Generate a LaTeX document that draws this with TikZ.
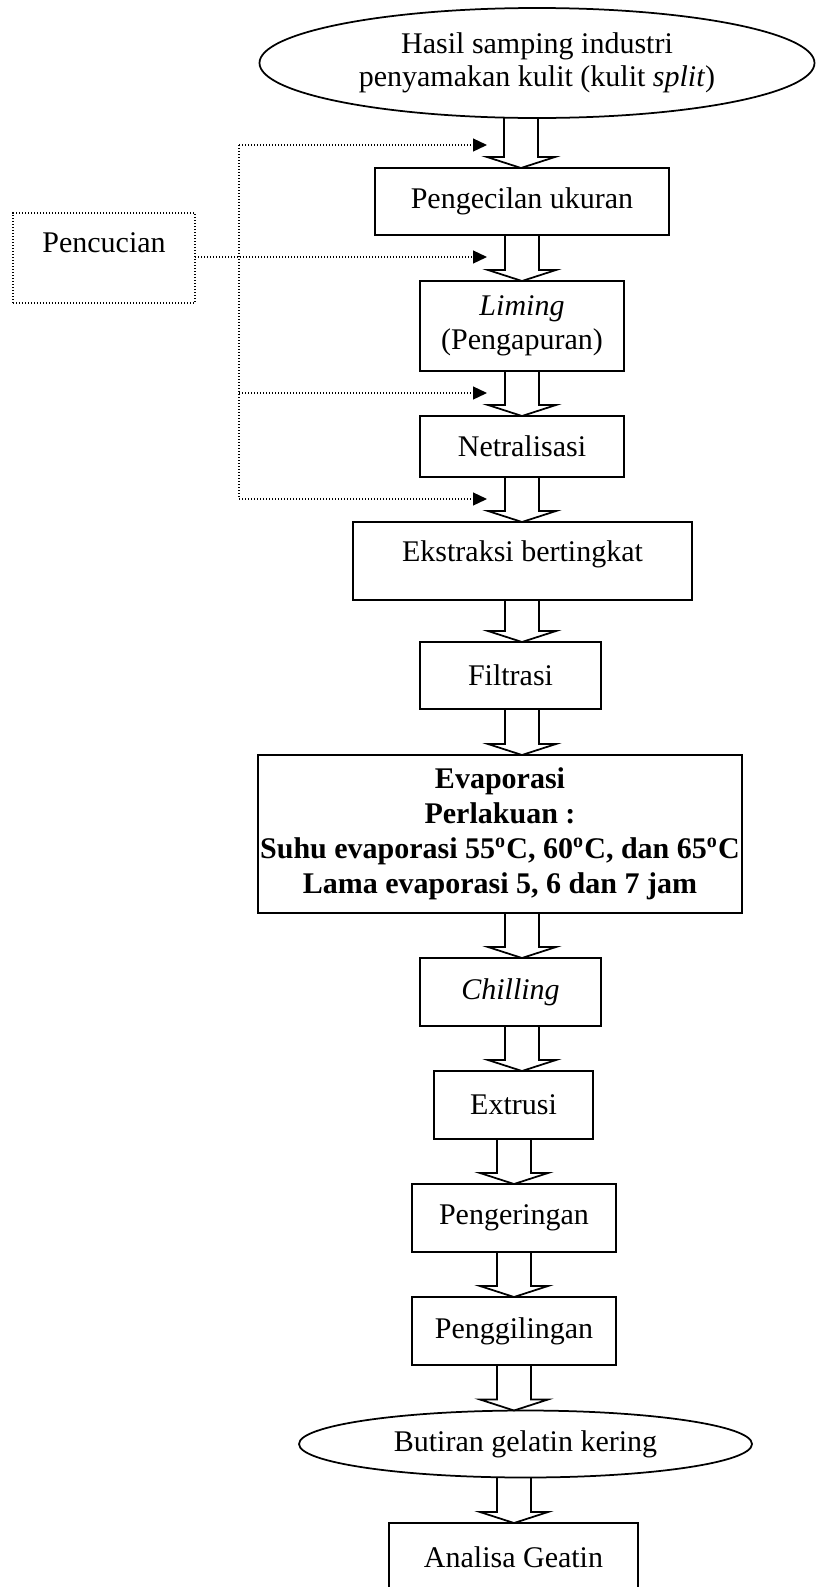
\documentclass[tikz,border=0pt]{standalone}
\usepackage{fontspec}
\setmainfont{Liberation Serif}
\usepackage{tikz}
\usetikzlibrary{shapes.geometric, arrows.meta, calc}
\tikzset{
  processbox/.style={rectangle, draw, line width=0.7pt, inner sep=1pt, outer sep=0pt, align=center, font=\fontsize{12}{13.5}\selectfont},
  termnode/.style={ellipse, draw, line width=0.7pt, inner sep=0pt, outer sep=0pt, align=center, font=\fontsize{12}{13}\selectfont},
  washbox/.style={rectangle, draw, line width=0.5pt, dash pattern=on 0.5pt off 0.7pt, outer sep=0pt, align=center, font=\fontsize{12}{13.5}\selectfont},
  washline/.style={line width=0.5pt, dash pattern=on 0.5pt off 0.7pt},
  washarrow/.style={washline, -{Triangle[length=5.6pt, width=5.2pt]}},
  blockarrow/.style={draw, line width=0.7pt, line join=miter}
}
% hollow block arrow: x position, source node, target node
\newcommand{\flowarrow}[3]{%
  \draw[blockarrow] (#1-17,0 |- #2.south) -- ($(#1-17,0 |- #3.north)+(0,-11)$) -- ++(-17,0)
    -- (#1,0 |- #3.north) -- ++(34,-11) -- ++(-17,0) -- (#1+17,0 |- #2.south);}

\begin{document}
\begin{tikzpicture}[x=0.4pt, y=-0.4pt]
  \path[use as bounding box, clip] (0,0) rectangle (817,1587);

  % Main steps
  \node[termnode, minimum width=222pt, minimum height=44pt] (bahan) at (537,63) {Hasil samping industri\\penyamakan kulit (kulit \textit{split})};
  \node[processbox, minimum width=117.6pt, minimum height=26.8pt] (kecil) at (522,201.5) {Pengecilan ukuran};
  \node[processbox, minimum width=81.6pt, minimum height=36pt] (liming) at (522,326) {\textit{Liming}\\(Pengapuran)};
  \node[processbox, minimum width=81.6pt, minimum height=24.4pt] (netral) at (522,446.5) {Netralisasi};
  \node[processbox, minimum width=135.6pt, minimum height=31.2pt, text height=8.5pt, text depth=8.5pt] (ekstrak) at (522.5,561) {Ekstraksi bertingkat};
  \node[processbox, minimum width=72.4pt, minimum height=26.8pt] (filtrasi) at (510.5,675.5) {Filtrasi};
  \node[processbox, minimum width=190.4pt, minimum height=63.2pt, font=\fontsize{12}{14}\selectfont\bfseries] (evap) at (500,834)
    {Evaporasi\\Perlakuan :\\Suhu evaporasi 55\textsuperscript{o}C, 60\textsuperscript{o}C, dan 65\textsuperscript{o}C\\Lama evaporasi 5, 6 dan 7 jam};
  \node[processbox, minimum width=72.4pt, minimum height=27.2pt] (chilling) at (510.5,992) {\textit{Chilling}};
  \node[processbox, minimum width=63.6pt, minimum height=27.2pt] (extrusi) at (513.5,1105) {Extrusi};
  \node[processbox, minimum width=81.6pt, minimum height=27.2pt] (kering) at (514,1218) {Pengeringan};
  \node[processbox, minimum width=81.6pt, minimum height=27.2pt] (giling) at (514,1331) {Penggilingan};
  \node[termnode, minimum width=181.2pt, minimum height=26.8pt] (butiran) at (525.5,1444) {Butiran gelatin kering};
  \node[processbox, minimum width=99.6pt, minimum height=27.6pt] (analisa) at (513.5,1557.5) {Analisa Geatin};

  % Block arrows
  \flowarrow{521}{bahan}{kecil}
  \flowarrow{522}{kecil}{liming}
  \flowarrow{522}{liming}{netral}
  \flowarrow{522}{netral}{ekstrak}
  \flowarrow{522}{ekstrak}{filtrasi}
  \flowarrow{522}{filtrasi}{evap}
  \flowarrow{522}{evap}{chilling}
  \flowarrow{522}{chilling}{extrusi}
  \flowarrow{514}{extrusi}{kering}
  \flowarrow{514}{kering}{giling}
  \flowarrow{514}{giling}{butiran}
  \flowarrow{514}{butiran}{analisa}

  % Washing
  \node[washbox, minimum width=72.8pt, minimum height=36pt, text height=8.5pt, text depth=13.3pt] (cuci) at (104,258) {Pencucian};
  \coordinate (cuci1) at ($(487,0 |- kecil.north)+(0,-23)$);
  \coordinate (cuci2) at ($(487,0 |- liming.north)+(0,-24)$);
  \coordinate (cuci3) at ($(487,0 |- netral.north)+(0,-23)$);
  \coordinate (cuci4) at ($(487,0 |- ekstrak.north)+(0,-23)$);
  \draw[washline] (239,0 |- cuci1) -- (239,0 |- cuci4);
  \draw[washarrow] (cuci2 -| cuci.east) -- (cuci2);
  \foreach \c in {cuci1, cuci3, cuci4} {
    \draw[washarrow] (239,0 |- \c) -- (\c);
  }
\end{tikzpicture}
\end{document}
